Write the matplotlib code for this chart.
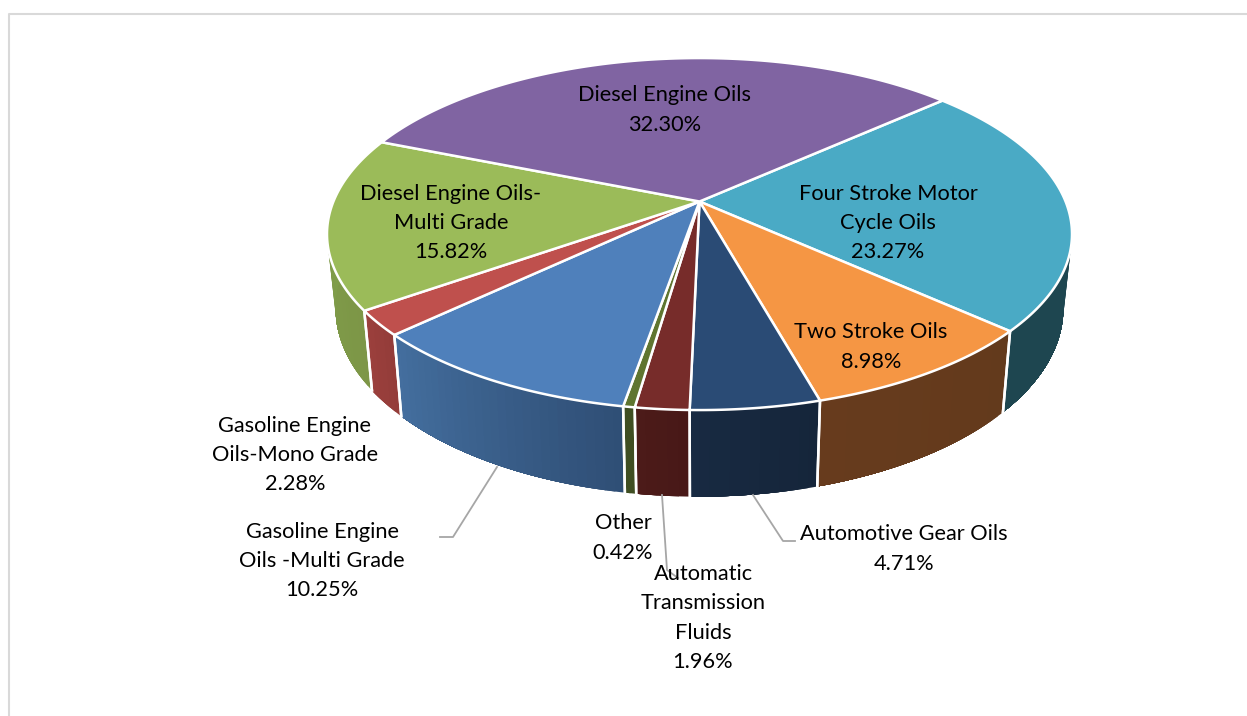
import numpy as np
import matplotlib
matplotlib.use('Agg')
import matplotlib.pyplot as plt
from matplotlib.colors import to_rgb

plt.rcParams['font.family'] = ['Lato', 'DejaVu Sans']

# clockwise from the four stroke slice
labels = ['Four Stroke Motor\nCycle Oils', 'Two Stroke Oils', 'Automotive Gear Oils',
          'Automatic\nTransmission\nFluids', 'Other', 'Gasoline Engine\nOils -Multi Grade',
          'Gasoline Engine\nOils-Mono Grade', 'Diesel Engine Oils-\nMulti Grade', 'Diesel Engine Oils']
shares = [23.27, 8.98, 4.71, 1.96, 0.42, 10.25, 2.28, 15.82, 32.30]
top_colors = ['#4aaac5', '#f59644', '#2a4b75', '#772c2a', '#5f7530', '#4f80bb', '#bf504d', '#9bbb59', '#8064a2']
side_left = ['#1e4650', '#673b1d', '#182a42', '#4c1b19', '#3f4e22', '#446f9f', '#9c403d', '#80a04a', '#8064a2']
side_right = ['#1e4650', '#633a1c', '#15253a', '#481817', '#3f4e22', '#2f4e75', '#933c39', '#7d9647', '#8064a2']
label_pos = [(888, 223), (871, 347), (904, 549), (703, 618), (623, 538),
             (322, 561), (295, 455), (451, 223), (665, 110)]
leaders = {2: ([753, 783, 795], [495, 541, 541]),
           3: ([662, 667, 678], [495, 570, 578]),
           5: ([497, 453, 440], [467, 537, 537])}

# pie geometry in image pixels
cx, cy = 699.5, 201.5
persp = 0.185
radius, squash = 372.5 * np.sqrt(1 - persp ** 2), 176 * (1 - persp ** 2)
start = -41.8


def project(theta):
    x, y = np.cos(theta), np.sin(theta)
    w = 1 - persp * y
    return radius * x / w, squash * y / w


def top_edge(theta):
    u, v = project(theta)
    return cx + u, cy + v


def bottom_edge(theta):
    u, v = project(theta)
    return cx + 0.977 * u, cy + 1.07 * v + 72


fig = plt.figure(figsize=(12.47, 7.16), dpi=100)
ax = fig.add_axes([0, 0, 1, 1])
ax.set_xlim(0, 1247)
ax.set_ylim(716, 0)
ax.axis('off')

ax.plot([9, 9, 1247], [716, 14, 14], color='#d9d9d9', lw=1.5, zorder=1)

edges = start + np.cumsum([0] + shares) * 3.6

# side wall first, only the part turned to the viewer
for i in range(len(shares)):
    a0 = max(edges[i], -8)
    a1 = min(edges[i + 1], 188)
    if a1 <= a0:
        continue
    n = max(int((a1 - a0) * 0.8), 2)
    th = np.radians(np.linspace(a0, a1, n + 1))
    c_r, c_l = np.array(to_rgb(side_right[i])), np.array(to_rgb(side_left[i]))
    # each strip runs on to the end of the slice so no seams show between them
    for j in range(n):
        t = np.linspace(th[j], th[-1], 60)
        tx, ty = top_edge(t)
        bx, by = bottom_edge(t)
        c = c_r + (c_l - c_r) * (j + 0.5) / n
        ax.fill(np.r_[tx, bx[::-1]], np.r_[ty, by[::-1]], color=c, lw=0, zorder=2)
    tx, ty = top_edge(th)
    bx, by = bottom_edge(th)
    if edges[i] >= -8:
        ax.plot([tx[0], bx[0]], [ty[0], by[0]], color='white', lw=1.8, zorder=3)
    if edges[i + 1] <= 188:
        ax.plot([tx[-1], bx[-1]], [ty[-1], by[-1]], color='white', lw=1.8, zorder=3)

# top face
for i in range(len(shares)):
    th = np.radians(np.linspace(edges[i], edges[i + 1], 120))
    x, y = top_edge(th)
    ax.fill(np.r_[cx, x], np.r_[cy, y], facecolor=top_colors[i], edgecolor='white',
            lw=1.8, joinstyle='round', zorder=4)

for i, (lx, ly) in leaders.items():
    ax.plot(lx, ly, color='#a6a6a6', lw=1.3, zorder=5)

for name, share, (px, py) in zip(labels, shares, label_pos):
    ax.text(px, py, f'{name}\n{share:.2f}%', ha='center', va='center', fontsize=15.7,
            color='black', linespacing=1.58, zorder=6)

fig.savefig('out.png', dpi=100)
